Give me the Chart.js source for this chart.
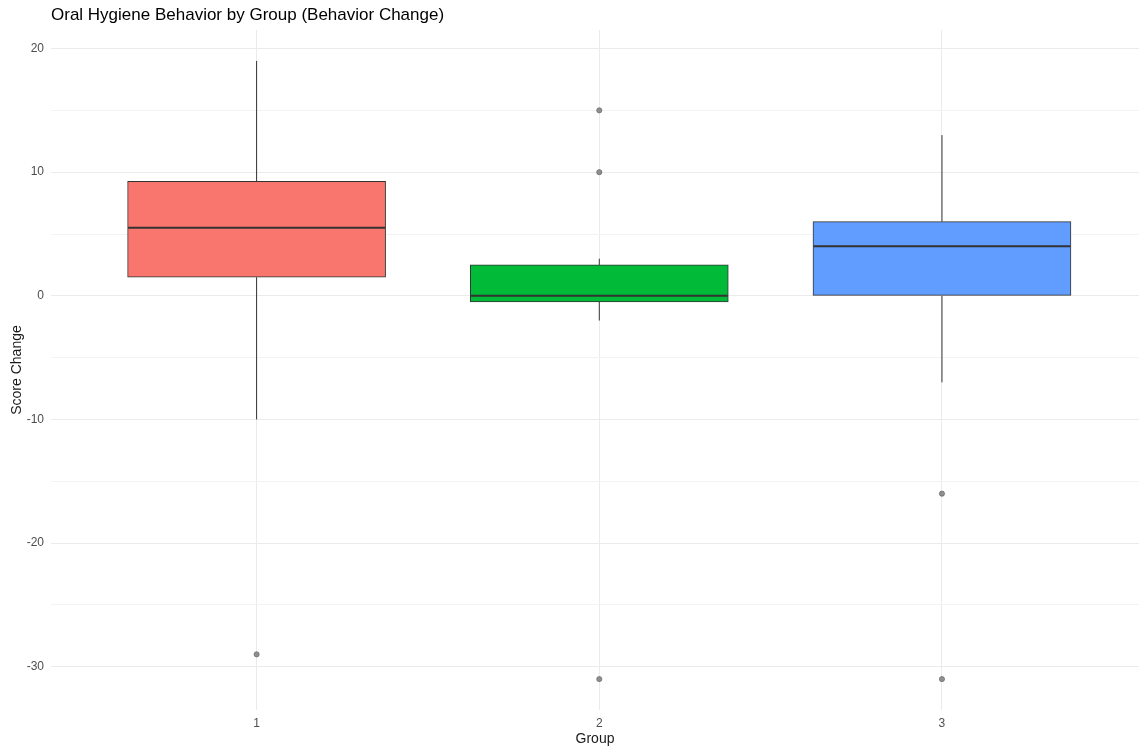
<!DOCTYPE html>
<html>
<head>
<meta charset="utf-8">
<script src="https://cdn.jsdelivr.net/npm/chart.js@4.4.1/dist/chart.umd.min.js"></script>
<style>
html,body{margin:0;padding:0;background:#fff;}
#wrap{width:1144px;height:750px;position:relative;}
</style>
</head>
<body>
<div id="wrap"><canvas id="c"></canvas></div>
<script>
// ---- data ----
const groups = [1, 2, 3];
const groupLabels = ['1', '2', '3'];
const q1 = [1.5, -0.5, 0];
const q3 = [9.25, 2.5, 6];
const medians = [5.5, 0, 4];
const whiskerLow = [-10, -2, -7];
const whiskerHigh = [19, 3, 13];
const outliers1 = [-29];
const outliers2 = [15, 10, -31];
const outliers3 = [-16, -31];
const boxColors = ['#F8766D', '#00BA38', '#619CFF'];
const yTicks = [-30, -25, -20, -15, -10, -5, 0, 5, 10, 15, 20];

const outlierSets = [outliers1, outliers2, outliers3];
const halfW = 0.375;

const boxData = groups.map((g, i) => ({ x: g, y: [q1[i], q3[i]] }));
const whiskerData = [];
groups.forEach((g, i) => {
  whiskerData.push({ x: g, y: whiskerLow[i] }, { x: g, y: q1[i] }, { x: g, y: null });
  whiskerData.push({ x: g, y: q3[i] }, { x: g, y: whiskerHigh[i] }, { x: g, y: null });
});
const medianData = [];
groups.forEach((g, i) => {
  medianData.push({ x: g - halfW, y: medians[i] }, { x: g + halfW, y: medians[i] }, { x: g, y: null });
});
const outlierData = [];
groups.forEach((g, i) => outlierSets[i].forEach(v => outlierData.push({ x: g, y: v })));

const titlePlugin = {
  id: 'ggTitle',
  afterDraw(chart) {
    const ctx = chart.ctx;
    ctx.save();
    ctx.font = '17px "Liberation Sans", Arial, sans-serif';
    ctx.fillStyle = '#000';
    ctx.textBaseline = 'middle';
    ctx.textAlign = 'left';
    ctx.fillText('Oral Hygiene Behavior by Group (Behavior Change)', chart.chartArea.left, 15);
    ctx.restore();
  }
};

const font = { family: '"Liberation Sans", Arial, sans-serif' };

new Chart(document.getElementById('c'), {
  type: 'bar',
  data: {
    datasets: [
      {
        type: 'line', data: medianData, borderColor: '#333333', borderWidth: 2,
        pointRadius: 0, spanGaps: false, order: 0
      },
      {
        type: 'scatter', data: outlierData, pointRadius: 2.6,
        backgroundColor: 'rgba(110,110,110,0.75)', borderColor: 'rgba(90,90,90,0.6)', borderWidth: 1,
        order: 0
      },
      {
        type: 'bar', data: boxData, backgroundColor: boxColors, borderColor: '#333333',
        borderWidth: 1, borderSkipped: false, barThickness: 258, order: 1
      },
      {
        type: 'line', data: whiskerData, borderColor: '#333333', borderWidth: 1,
        pointRadius: 0, spanGaps: false, order: 2
      }
    ]
  },
  options: {
    responsive: true,
    maintainAspectRatio: false,
    animation: false,
    layout: { padding: { top: 30, right: 0, bottom: 0, left: 0 } },
    plugins: { legend: { display: false }, tooltip: { enabled: false }, title: { display: false } },
    scales: {
      x: {
        type: 'linear', min: 0.4, max: 3.575, offset: false,
        afterBuildTicks(s) { s.ticks = groups.map(v => ({ value: v })); },
        afterFit(s) { s.height = 40; },
        ticks: {
          callback(v) { const i = groups.indexOf(v); return i >= 0 ? groupLabels[i] : ''; },
          color: '#4D4D4D', font: { ...font, size: 12 }, padding: 6, maxRotation: 0
        },
        grid: { color: '#EBEBEB', drawTicks: false, offset: false },
        border: { display: false },
        title: { display: true, text: 'Group', color: '#1A1A1A', font: { ...font, size: 14 }, padding: { top: 0, bottom: 2 } }
      },
      y: {
        min: -33.5, max: 21.5,
        afterBuildTicks(s) { s.ticks = yTicks.map(v => ({ value: v })); },
        afterFit(s) { s.width = 51; },
        ticks: {
          callback(v) { return v % 10 === 0 ? String(v) : ''; },
          color: '#4D4D4D', font: { ...font, size: 12 }, padding: 7
        },
        grid: {
          color(ctx) { return ctx.tick && ctx.tick.value % 10 === 0 ? '#EBEBEB' : '#F3F3F3'; },
          drawTicks: false
        },
        border: { display: false },
        title: { display: true, text: 'Score Change', color: '#1A1A1A', font: { ...font, size: 14 }, padding: { top: 9, bottom: 0 } }
      }
    }
  },
  plugins: [titlePlugin]
});
</script>
</body>
</html>
